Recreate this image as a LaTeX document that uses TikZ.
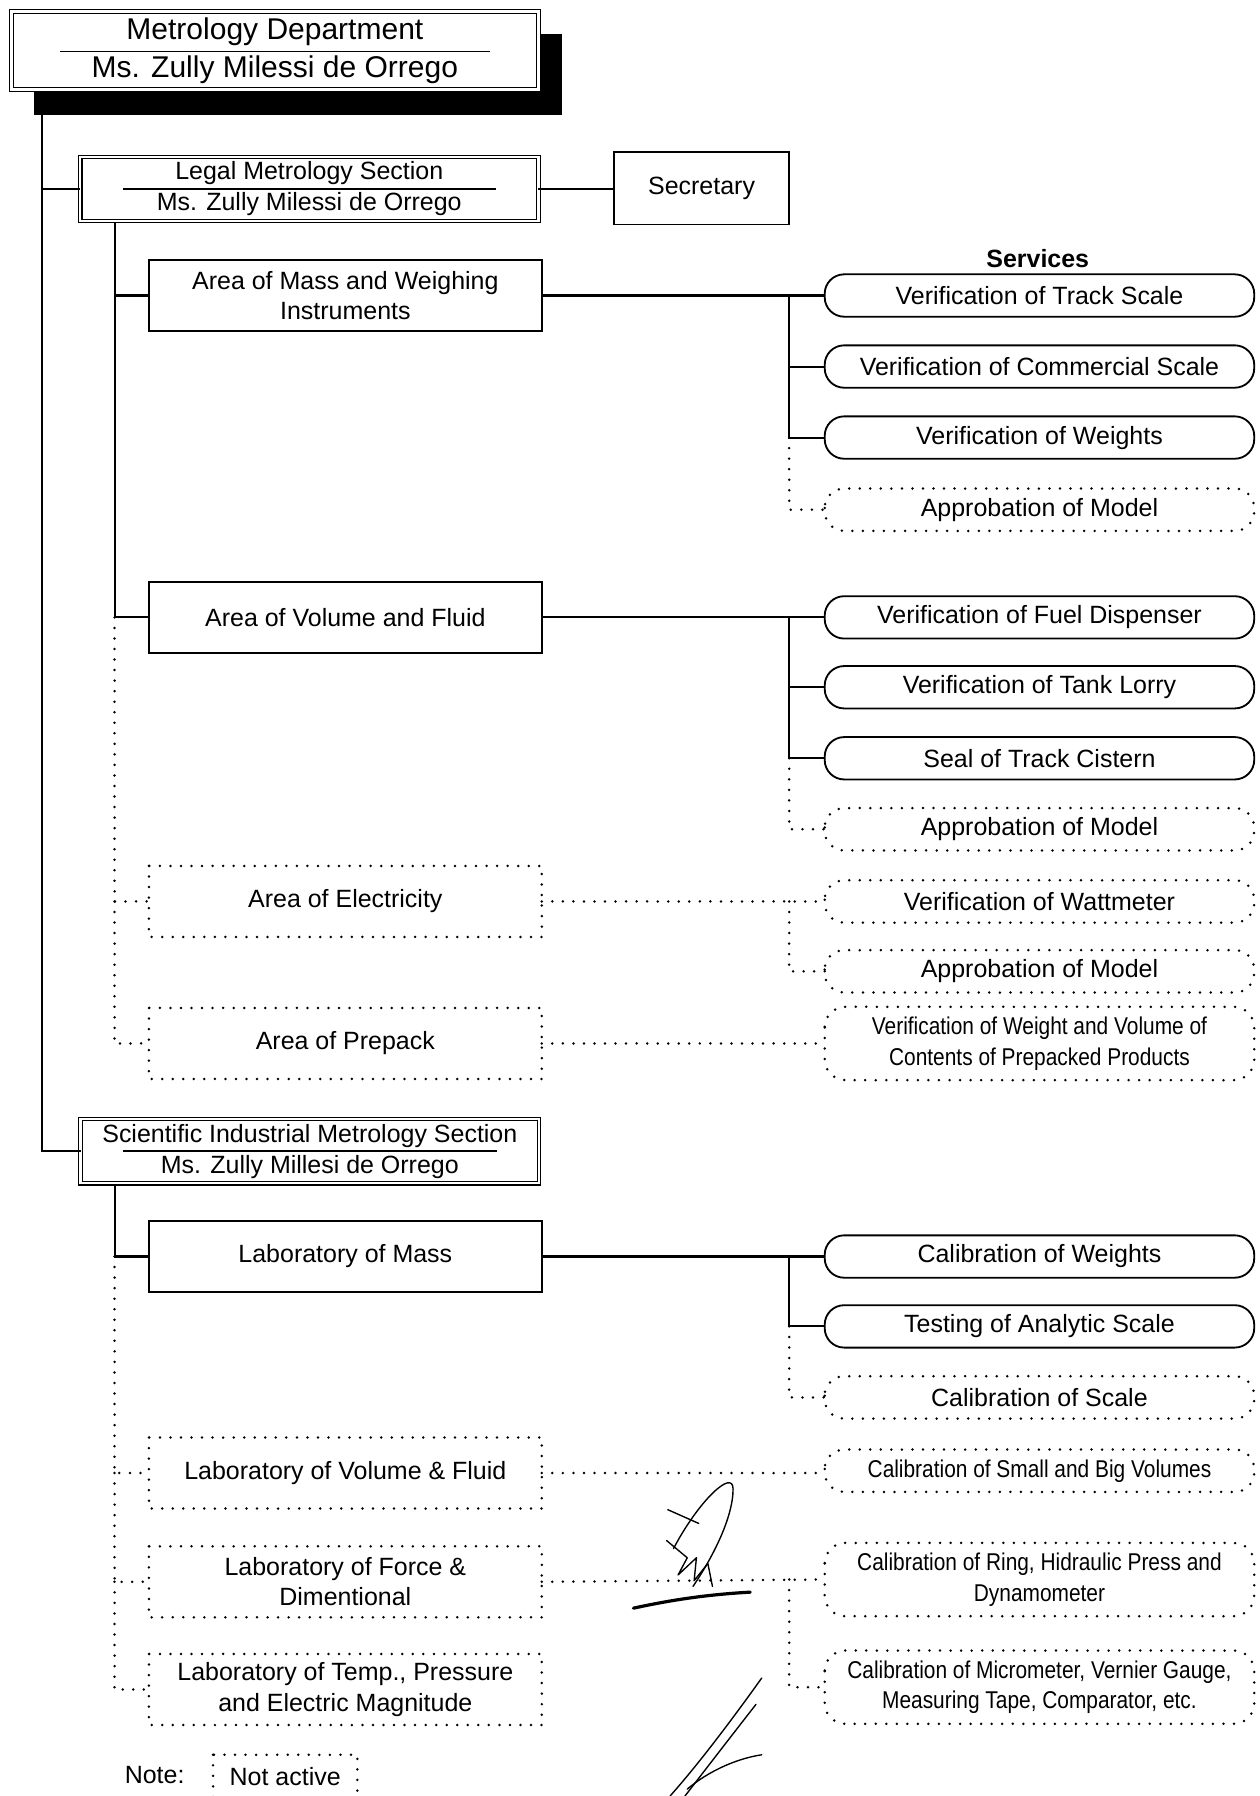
\documentclass[tikz,border=0pt]{standalone}
\usepackage{fontspec}
\setmainfont{Liberation Sans}
\newfontfamily\narrowfont[FakeStretch=0.86]{Liberation Sans}
\begin{document}
\begin{tikzpicture}[x=0.5pt,y=-0.5pt,
  every node/.style={inner sep=0pt,outer sep=0pt,align=center,font=\fontsize{10.9}{13.3}\selectfont},
  conn/.style={line width=0.9pt},
  dotline/.style={line width=1.2pt,dash pattern=on 0pt off 4.6pt,line cap=round},
  topbox/.style={draw,fill=white,double,double distance=1.1pt,line width=0.5pt,minimum width=230pt,minimum height=34pt,font=\fontsize{13.1}{16.5}\selectfont},
  secbox/.style={draw,fill=white,double,double distance=1.1pt,line width=0.5pt,minimum width=200pt,minimum height=28pt,font=\fontsize{10.9}{13.5}\selectfont},
  plainbox/.style={draw,line width=0.8pt,minimum width=76.5pt,minimum height=31.5pt},
  areabox/.style={draw,line width=0.8pt,minimum width=171.5pt,minimum height=31pt},
  svc/.style={draw,line width=0.8pt,rounded corners=8.5pt,minimum width=187.5pt,minimum height=18.5pt},
  svctwo/.style={svc,minimum height=32pt,font=\narrowfont\fontsize{10.6}{13.5}\selectfont},
  svcnarrow/.style={svc,font=\narrowfont\fontsize{10.6}{13.5}\selectfont},
  sig/.style={line width=0.6pt,line cap=round,line join=round}
]
\useasboundingbox[fill=white] (0,0) rectangle (1100,1568);

% ---------- top ----------
\coordinate (m0) at (37,100);
\coordinate (lv) at (100,195);
\coordinate (sv) at (100,1035);
\node[topbox] (top) at (240,44) {Metrology Department\\Ms. Zully Milessi de Orrego};
\fill ([xshift=10pt,yshift=-11pt]top.south west) rectangle ([xshift=10.5pt,yshift=-10pt]top.north east);
\node[topbox] at (top.center) {Metrology Department\\Ms. Zully Milessi de Orrego};
\draw[line width=0.6pt] ([xshift=-94pt,yshift=-0.5pt]top.center) -- ([xshift=94pt,yshift=-0.5pt]top.center);

% ---------- legal section ----------
\node[secbox] (legal) at (270,165) {Legal Metrology Section\\Ms. Zully Milessi de Orrego};
\draw[line width=0.6pt] ([xshift=-81.5pt]legal.center) -- ([xshift=81.5pt]legal.center);
\node[plainbox] (secr) at (612.5,164.5) {Secretary};
\draw[conn] (m0) |- (legal.west);
\draw[conn] (legal.east) -- (secr.west |- legal.east);

\node[font=\bfseries\fontsize{10.9}{13}\selectfont] (servlbl) at (906,226) {Services};

% areas
\node[areabox] (amass) at (301.5,258) {Area of Mass and Weighing\\Instruments};
\node[areabox] (avol) at (301.5,539) {Area of Volume and Fluid};
\node[areabox,draw=none] (aelec) at (301.5,787) {Area of Electricity};
\node[areabox,draw=none] (aprep) at (301.5,911) {Area of Prepack};
\draw[dotline] (aelec.north west) rectangle (aelec.south east);
\draw[dotline] (aprep.north west) rectangle (aprep.south east);

\draw[conn] (lv) |- (amass.west);
\draw[conn] (lv |- amass.west) |- (avol.west);
\draw[dotline] (lv |- avol.west) |- (aelec.west);
\draw[dotline] (lv |- aelec.west) |- (aprep.west);

% services of mass
\node[svc] (s11) at (907.5,258) {Verification of Track Scale};
\node[svc] (s12) at (907.5,320) {Verification of Commercial Scale};
\node[svc] (s13) at (907.5,382) {Verification of Weights};
\node[svc,draw=none] (s14) at (907.5,445) {Approbation of Model};
\draw[dotline,rounded corners=8.5pt] (s14.north west) rectangle (s14.south east);
\coordinate (j1) at (689,258);
\draw[conn] (amass.east) -- (s11.west);
\draw[conn] (j1) |- (s12.west);
\draw[conn] (j1 |- s12.west) |- (s13.west);
\draw[dotline] (j1 |- s13.west) |- (s14.west);

% services of volume
\node[svc] (s21) at (907.5,539) {Verification of Fuel Dispenser};
\node[svc] (s22) at (907.5,600) {Verification of Tank Lorry};
\node[svc] (s23) at (907.5,662) {Seal of Track Cistern};
\node[svc,draw=none] (s24) at (907.5,724) {Approbation of Model};
\draw[dotline,rounded corners=8.5pt] (s24.north west) rectangle (s24.south east);
\coordinate (j2) at (689,539);
\draw[conn] (avol.east) -- (s21.west);
\draw[conn] (j2) |- (s22.west);
\draw[conn] (j2 |- s22.west) |- (s23.west);
\draw[dotline] (j2 |- s23.west) |- (s24.west);

% services of electricity
\node[svc,draw=none] (s31) at (907.5,787) {Verification of Wattmeter};
\node[svc,draw=none] (s32) at (907.5,848) {Approbation of Model};
\draw[dotline,rounded corners=8.5pt] (s31.north west) rectangle (s31.south east);
\draw[dotline,rounded corners=8.5pt] (s32.north west) rectangle (s32.south east);
\coordinate (j3) at (689,787);
\draw[dotline] (aelec.east) -- (s31.west);
\draw[dotline] (j3) |- (s32.west);

% services of prepack
\node[svctwo,draw=none] (s41) at (907.5,911) {Verification of Weight and Volume of\\Contents of Prepacked Products};
\draw[dotline,rounded corners=9pt] (s41.north west) rectangle (s41.south east);
\draw[dotline] (aprep.east) -- (s41.west);

% ---------- scientific section ----------
\node[secbox] (sci) at (270.5,1005) {Scientific Industrial Metrology Section\\Ms. Zully Millesi de Orrego};
\draw[line width=0.6pt] ([xshift=-81.5pt]sci.center) -- ([xshift=81.5pt]sci.center);
\draw[conn] (m0 |- legal.west) |- (sci.west);

\node[areabox] (lmass) at (301.5,1097) {Laboratory of Mass};
\node[areabox,draw=none] (lvol) at (301.5,1286) {Laboratory of Volume \& Fluid};
\node[areabox,draw=none] (lforce) at (301.5,1381) {Laboratory of Force \&\\Dimentional};
\node[areabox,draw=none] (ltemp) at (301.5,1475) {Laboratory of Temp., Pressure\\and Electric Magnitude};
\foreach \n in {lvol,lforce,ltemp}
  \draw[dotline] (\n.north west) rectangle (\n.south east);

\draw[conn] (sv) |- (lmass.west);
\draw[dotline] (sv |- lmass.west) |- (lvol.west);
\draw[dotline] (sv |- lvol.west) |- (lforce.west);
\draw[dotline] (sv |- lforce.west) |- (ltemp.west);

% calibration services
\node[svc] (c11) at (907.5,1097) {Calibration of Weights};
\node[svc] (c12) at (907.5,1158) {Testing of Analytic Scale};
\node[svc,draw=none] (c13) at (907.5,1220) {Calibration of Scale};
\draw[dotline,rounded corners=8.5pt] (c13.north west) rectangle (c13.south east);
\coordinate (j5) at (689,1097);
\draw[conn] (lmass.east) -- (c11.west);
\draw[conn] (j5) |- (c12.west);
\draw[dotline] (j5 |- c12.west) |- (c13.west);

\node[svcnarrow,draw=none] (c21) at (907.5,1284) {Calibration of Small and Big Volumes};
\draw[dotline,rounded corners=8.5pt] (c21.north west) rectangle (c21.south east);
\draw[dotline] (lvol.east) -- (c21.west |- lvol.east);

\node[svctwo,draw=none] (c31) at (907.5,1379) {Calibration of Ring, Hidraulic Press and\\Dynamometer};
\node[svctwo,draw=none] (c32) at (907.5,1473) {Calibration of Micrometer, Vernier Gauge,\\Measuring Tape, Comparator, etc.};
\draw[dotline,rounded corners=9pt] (c31.north west) rectangle (c31.south east);
\draw[dotline,rounded corners=9pt] (c32.north west) rectangle (c32.south east);
\coordinate (j6) at (689,1379);
\draw[dotline] (lforce.east) -- (c31.west);
\draw[dotline] (j6) |- (c32.west);

% ---------- note ----------
\node (notelbl) at (135,1550) {Note:};
\node[draw=none,minimum width=63pt,minimum height=20pt] (note) at (249,1552) {\raisebox{1pt}{Not active}};
\draw[dotline] (note.north west) rectangle (note.south east);

% ---------- signatures ----------
\draw[sig] (588,1352) .. controls (610,1310) and (640,1282) .. (640,1300) .. controls (640,1325) and (622,1360) .. (605,1385);
\draw[sig] (583,1318) -- (610,1330);
\draw[sig] (582,1345) -- (600,1360) -- (592,1375) -- (608,1360) -- (606,1380) -- (618,1365) -- (622,1385);
\draw[line width=1.4pt,line cap=round] (553,1404) .. controls (590,1396) and (620,1392) .. (655,1390);
\draw[sig] (665,1465) .. controls (640,1500) and (610,1540) .. (585,1568);
\draw[sig] (660,1488) .. controls (635,1520) and (612,1550) .. (598,1568);
\draw[sig] (600,1562) .. controls (620,1545) and (645,1535) .. (665,1532);
\end{tikzpicture}
\end{document}
